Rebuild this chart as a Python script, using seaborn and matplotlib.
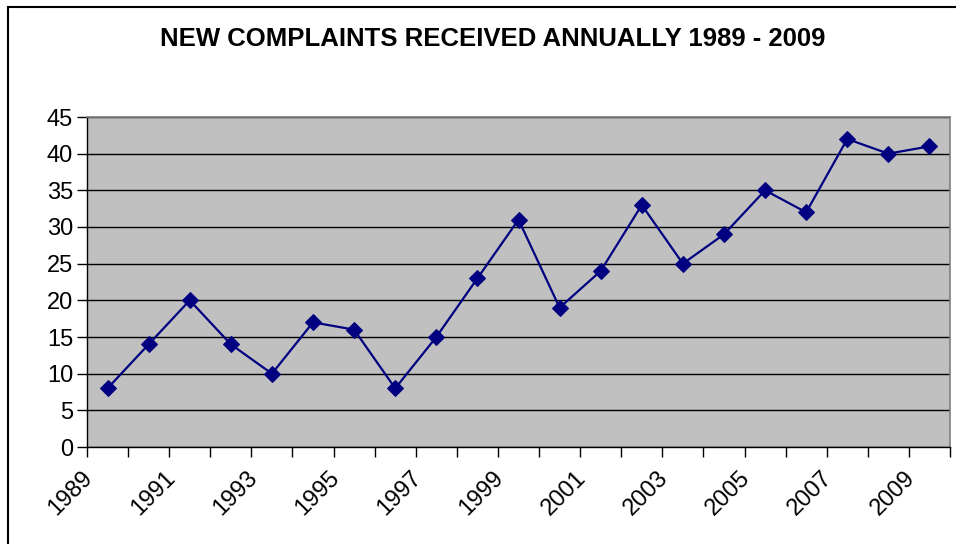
import matplotlib
matplotlib.use("Agg")
import matplotlib.pyplot as plt
import seaborn as sns
import pandas as pd
from matplotlib.patches import Rectangle
from matplotlib.transforms import ScaledTranslation

years = list(range(1989, 2010))
complaints = [8, 14, 20, 14, 10, 17, 16, 8, 15, 23, 31, 19, 24, 33, 25, 29, 35, 32, 42, 40, 41]
y_ticks = [0, 5, 10, 15, 20, 25, 30, 35, 40, 45]
title = "NEW COMPLAINTS RECEIVED ANNUALLY 1989 - 2009"

df = pd.DataFrame({"pos": range(len(years)), "year": years, "count": complaints})

sns.set_theme(style="white")
plt.rcParams["font.family"] = ["Liberation Sans", "DejaVu Sans"]
plt.rcParams["text.color"] = "black"
plt.rcParams["xtick.color"] = "black"
plt.rcParams["ytick.color"] = "black"

fig = plt.figure(figsize=(9.56, 5.44), dpi=100)
ax = fig.add_axes([87 / 956, 1 - 447 / 544, (950 - 87) / 956, (447 - 117) / 544])
ax.set_facecolor("#c0c0c0")

sns.lineplot(data=df, x="pos", y="count", ax=ax, color="#000080", linewidth=1.6,
             marker="D", markersize=8, markeredgecolor="#000080", zorder=3)

n = len(years)
ax.set_xlim(-0.5, n - 0.5)
ax.set_ylim(0, 45)
ax.set_yticks(y_ticks)
ax.set_yticklabels([str(v) for v in y_ticks], fontsize=17)
ax.yaxis.grid(True, color="black", linewidth=1)
ax.set_axisbelow(True)

# tick marks on category boundaries, labels on category centres
ax.set_xticks([i - 0.5 for i in range(n + 1)])
ax.set_xticklabels([])
ax.set_xticks(list(range(0, n, 2)), minor=True)
ax.set_xticklabels([str(y) for y in years[::2]], minor=True, fontsize=17,
                   rotation=45, ha="right", va="center", rotation_mode="anchor")
ax.tick_params(axis="x", which="major", direction="out", length=7, width=1, color="black", bottom=True)
ax.tick_params(axis="x", which="minor", length=0, pad=20, bottom=True, labelcolor="black")
ax.tick_params(axis="y", direction="out", length=7, width=1, color="black", left=True, pad=3,
               labelcolor="black")
shift = ScaledTranslation(-18 / 100, 0, fig.dpi_scale_trans)
for lbl in ax.get_xticklabels(minor=True):
    lbl.set_transform(lbl.get_transform() + shift)
ax.set_xlabel("")
ax.set_ylabel("")

for side in ["top", "right"]:
    ax.spines[side].set_color("#808080")
    ax.spines[side].set_linewidth(1.2)
ax.spines["left"].set_color("black")
ax.spines["bottom"].set_color("black")
ax.spines["left"].set_linewidth(1)
ax.spines["bottom"].set_linewidth(1)

fig.text(493 / 956, 1 - 39 / 544, title, ha="center", va="center", color="black",
         fontsize=18.5, fontweight="bold", family=["Liberation Sans", "DejaVu Sans"])

# outer chart frame
fig.patches.append(Rectangle((8 / 956, -0.1), 1.2, 1 - 7 / 544 + 0.1, transform=fig.transFigure,
                             fill=False, edgecolor="black", linewidth=1.5, zorder=0))

fig.savefig("out.png", dpi=100)
